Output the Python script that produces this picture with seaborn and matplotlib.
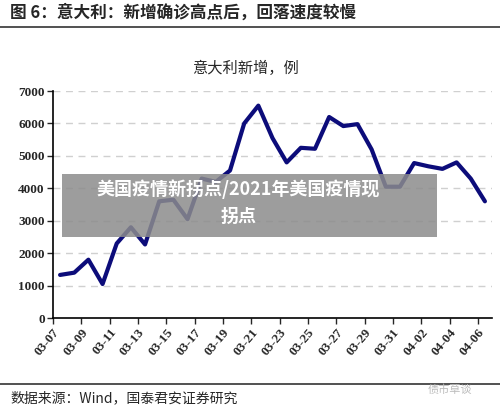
import matplotlib.pyplot as plt
import matplotlib.patches as mpatches
import pandas as pd
import seaborn as sns

dates = ["03-07", "03-08", "03-09", "03-10", "03-11", "03-12", "03-13", "03-14",
         "03-15", "03-16", "03-17", "03-18", "03-19", "03-20", "03-21", "03-22",
         "03-23", "03-24", "03-25", "03-26", "03-27", "03-28", "03-29", "03-30",
         "03-31", "04-01", "04-02", "04-03", "04-04", "04-05", "04-06"]
new_cases = [1330, 1400, 1800, 1050, 2300, 2800, 2270, 3600, 3650, 3050, 4300,
             4200, 4550, 6000, 6550, 5550, 4800, 5250, 5220, 6200, 5920, 5980,
             5200, 4050, 4050, 4780, 4680, 4600, 4800, 4300, 3600]
yticks = [0, 1000, 2000, 3000, 4000, 5000, 6000, 7000]

sns.set_style("white")
plt.rcParams['font.family'] = ['Noto Sans CJK SC', 'DejaVu Sans']

df = pd.DataFrame({"idx": range(len(dates)), "v": new_cases})

fig = plt.figure(figsize=(5, 4.12), dpi=100)
ax = fig.add_axes([0.106, 0.228, 0.878, 0.551])
sns.lineplot(data=df, x="idx", y="v", color="#0c0c7a", linewidth=3, ax=ax)

ax.set_xlim(-0.5, 30.5)
ax.set_ylim(0, 7000)
ax.set_yticks(yticks)
ax.set_yticklabels([str(t) for t in yticks], family="Liberation Serif",
                   fontweight="bold", fontsize=9.5)
tick_pos = [i - 0.5 for i in range(0, len(dates), 2)]
ax.set_xticks(tick_pos)
ax.set_xticklabels(dates[::2], rotation=50, ha="right", rotation_mode="anchor",
                   family="Liberation Serif", fontweight="bold", fontsize=9.5)
ax.tick_params(axis="x", direction="out", length=4, width=1, pad=2, bottom=True)
ax.tick_params(axis="y", direction="out", length=4, width=1, left=True, pad=2)
for y in yticks[1:]:
    ax.axhline(y, color="#d0d0d0", linestyle=(0, (5, 4)), linewidth=1, zorder=0)
for s in ["top", "right"]:
    ax.spines[s].set_visible(False)
for s in ["left", "bottom"]:
    ax.spines[s].set_color("black")
    ax.spines[s].set_linewidth(1.2)
ax.set_xlabel("")
ax.set_ylabel("")

fig.text(0.02, 0.97, "图 6：意大利：新增确诊高点后，回落速度较慢", fontsize=12,
         fontweight="bold", va="center")
fig.add_artist(plt.Line2D([0, 1], [0.935, 0.935], color="#333333", linewidth=1.2))
fig.text(0.49, 0.835, "意大利新增，例", fontsize=11, ha="center", va="center")
fig.add_artist(plt.Line2D([0, 1], [0.067, 0.067], color="#333333", linewidth=1.2))
fig.text(0.02, 0.033, "数据来源：Wind，国泰君安证券研究", fontsize=10, va="center")
fig.text(0.90, 0.055, "债市草谈", fontsize=8, color="#bbbbbb", ha="center", va="center")

fig.add_artist(mpatches.Rectangle((0.124, 0.425), 0.75, 0.153, transform=fig.transFigure,
                                  facecolor="#8c8c8c", alpha=0.85, edgecolor="none"))
fig.text(0.477, 0.542, "美国疫情新拐点/2021年美国疫情现", fontsize=13, color="white",
         fontweight="bold", ha="center", va="center")
fig.text(0.477, 0.475, "拐点", fontsize=13, color="white",
         fontweight="bold", ha="center", va="center")

fig.savefig("out.png", dpi=100)
